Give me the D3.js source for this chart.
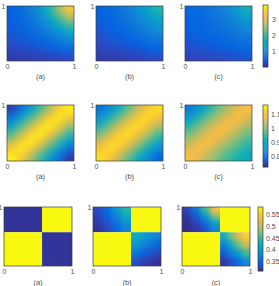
<!DOCTYPE html>
<html>
<head>
<meta charset="utf-8">
<script src="https://cdn.jsdelivr.net/npm/d3@7"></script>
<style>
  body { margin: 0; background: #fff; }
  svg { display: block; }
  text { font-family: "Liberation Sans", Arial, sans-serif; }
</style>
</head>
<body>
<svg id="fig" width="279" height="286"></svg>
<script>
// ---- data ----
const panelLabels = ["(a)", "(b)", "(c)"];

// row 1 (values on a 7x7 grid, top row first)
const row1Range = [0, 3.9];
const row1Ticks = [1, 2, 3];
const row1A = [
  [0.5, 0.62, 0.85, 1.25, 1.8, 2.6, 3.4],
  [0.48, 0.58, 0.76, 1.05, 1.5, 2.1, 2.75],
  [0.45, 0.53, 0.66, 0.86, 1.15, 1.55, 2.0],
  [0.4, 0.46, 0.56, 0.68, 0.86, 1.1, 1.38],
  [0.34, 0.39, 0.45, 0.53, 0.64, 0.8, 0.96],
  [0.27, 0.3, 0.34, 0.39, 0.45, 0.52, 0.6],
  [0.16, 0.18, 0.2, 0.22, 0.25, 0.28, 0.32]
];
const row1B = [
  [0.5, 0.58, 0.72, 0.92, 1.2, 1.5, 1.85],
  [0.47, 0.54, 0.65, 0.8, 1.02, 1.28, 1.55],
  [0.43, 0.5, 0.58, 0.69, 0.85, 1.05, 1.25],
  [0.38, 0.44, 0.5, 0.59, 0.7, 0.84, 1.0],
  [0.32, 0.37, 0.42, 0.48, 0.56, 0.66, 0.76],
  [0.26, 0.29, 0.33, 0.37, 0.42, 0.48, 0.54],
  [0.16, 0.18, 0.2, 0.22, 0.25, 0.28, 0.31]
];
const row1C = [
  [0.55, 0.62, 0.72, 0.86, 1.05, 1.35, 1.7],
  [0.53, 0.59, 0.67, 0.77, 0.92, 1.12, 1.38],
  [0.5, 0.55, 0.61, 0.69, 0.79, 0.93, 1.1],
  [0.46, 0.5, 0.55, 0.61, 0.68, 0.78, 0.9],
  [0.4, 0.44, 0.48, 0.53, 0.58, 0.65, 0.72],
  [0.33, 0.36, 0.39, 0.43, 0.47, 0.52, 0.57],
  [0.24, 0.26, 0.28, 0.3, 0.33, 0.36, 0.39]
];

// row 2
const row2Range = [0.72, 1.17];
const row2Ticks = [0.8, 0.9, 1, 1.1];
const row2A = [
  [0.74, 0.8, 0.87, 0.95, 1.03, 1.11, 1.16],
  [0.8, 0.87, 0.95, 1.03, 1.11, 1.16, 1.11],
  [0.87, 0.95, 1.03, 1.11, 1.16, 1.11, 1.03],
  [0.95, 1.03, 1.11, 1.16, 1.11, 1.03, 0.95],
  [1.03, 1.11, 1.16, 1.11, 1.03, 0.95, 0.87],
  [1.11, 1.16, 1.11, 1.03, 0.95, 0.87, 0.8],
  [1.16, 1.11, 1.03, 0.95, 0.87, 0.8, 0.74]
];
const row2B = [
  [0.8, 0.85, 0.91, 0.98, 1.05, 1.11, 1.14],
  [0.85, 0.91, 0.98, 1.05, 1.11, 1.14, 1.10],
  [0.91, 0.98, 1.05, 1.11, 1.14, 1.10, 1.04],
  [0.98, 1.05, 1.11, 1.14, 1.10, 1.04, 0.97],
  [1.05, 1.11, 1.14, 1.10, 1.04, 0.97, 0.9],
  [1.11, 1.14, 1.10, 1.04, 0.97, 0.9, 0.84],
  [1.14, 1.10, 1.04, 0.97, 0.9, 0.84, 0.78]
];
const row2C = [
  [0.81, 0.86, 0.92, 0.98, 1.03, 1.07, 1.1],
  [0.86, 0.92, 0.98, 1.03, 1.07, 1.1, 1.07],
  [0.92, 0.98, 1.03, 1.07, 1.1, 1.07, 1.03],
  [0.98, 1.03, 1.07, 1.1, 1.07, 1.03, 0.99],
  [1.03, 1.07, 1.1, 1.07, 1.03, 0.99, 0.95],
  [1.07, 1.1, 1.07, 1.03, 0.99, 0.95, 0.92],
  [1.1, 1.07, 1.03, 0.99, 0.95, 0.92, 0.9]
];

// row 3 (8x8, split in four blocks at the break lines)
const row3Range = [0.31, 0.58];
const row3Ticks = [0.35, 0.4, 0.45, 0.5, 0.55];
const row3Breaks = [0.56, 0.57]; // x break, y break
const row3A = [
  [0.316, 0.316, 0.316, 0.316, 0.578, 0.578, 0.578, 0.578],
  [0.316, 0.316, 0.316, 0.316, 0.578, 0.578, 0.578, 0.578],
  [0.316, 0.316, 0.316, 0.316, 0.578, 0.578, 0.578, 0.578],
  [0.316, 0.316, 0.316, 0.316, 0.578, 0.578, 0.578, 0.578],
  [0.578, 0.578, 0.578, 0.578, 0.316, 0.316, 0.316, 0.316],
  [0.578, 0.578, 0.578, 0.578, 0.316, 0.316, 0.316, 0.316],
  [0.578, 0.578, 0.578, 0.578, 0.316, 0.316, 0.316, 0.316],
  [0.578, 0.578, 0.578, 0.578, 0.316, 0.316, 0.316, 0.316]
];
const row3B = [
  [0.33, 0.355, 0.395, 0.44, 0.578, 0.578, 0.578, 0.578],
  [0.325, 0.345, 0.38, 0.42, 0.578, 0.578, 0.578, 0.578],
  [0.32, 0.335, 0.36, 0.395, 0.578, 0.578, 0.578, 0.578],
  [0.316, 0.328, 0.35, 0.375, 0.578, 0.578, 0.578, 0.578],
  [0.578, 0.578, 0.578, 0.578, 0.42, 0.41, 0.39, 0.375],
  [0.578, 0.578, 0.578, 0.578, 0.395, 0.38, 0.365, 0.35],
  [0.578, 0.578, 0.578, 0.578, 0.365, 0.35, 0.338, 0.328],
  [0.578, 0.578, 0.578, 0.578, 0.335, 0.326, 0.32, 0.316]
];
const row3C = [
  [0.325, 0.365, 0.45, 0.54, 0.578, 0.578, 0.578, 0.578],
  [0.318, 0.34, 0.4, 0.48, 0.578, 0.578, 0.578, 0.578],
  [0.314, 0.326, 0.36, 0.42, 0.578, 0.578, 0.578, 0.578],
  [0.312, 0.318, 0.336, 0.375, 0.578, 0.578, 0.578, 0.578],
  [0.578, 0.578, 0.578, 0.578, 0.42, 0.47, 0.52, 0.55],
  [0.578, 0.578, 0.578, 0.578, 0.37, 0.42, 0.47, 0.51],
  [0.578, 0.578, 0.578, 0.578, 0.34, 0.37, 0.41, 0.45],
  [0.578, 0.578, 0.578, 0.578, 0.318, 0.335, 0.355, 0.385]
];

// parula colormap anchors (MATLAB)
const parulaRGB = [
  [0.2081, 0.1663, 0.5292], [0.1707, 0.2919, 0.7792], [0.0117, 0.3875, 0.8820],
  [0.0779, 0.5040, 0.8384], [0.0343, 0.5966, 0.8199], [0.0267, 0.6642, 0.7607],
  [0.1453, 0.7098, 0.6646], [0.3482, 0.7424, 0.5473], [0.5709, 0.7485, 0.4494],
  [0.7525, 0.7384, 0.3768], [0.9139, 0.7258, 0.3063], [0.9938, 0.7455, 0.2403],
  [0.9789, 0.8271, 0.1633], [0.9763, 0.9831, 0.0538]
];
const parulaIdx = [0, 5, 8, 15, 20, 25, 30, 35, 40, 45, 50, 53, 57, 63];

const parula = d3.scaleLinear()
  .domain(parulaIdx.map(i => i / 63))
  .range(parulaRGB.map(c => d3.rgb(c[0] * 255, c[1] * 255, c[2] * 255).toString()))
  .interpolate(d3.interpolateRgb)
  .clamp(true);

// ---- layout ----
const rows = [
  { top: 6, bottom: 61, lefts: [7, 96, 185], w: 67, cbX: 263, cbTop: 5, cbBottom: 67,
    data: [row1A, row1B, row1C], range: row1Range, ticks: row1Ticks, split: false, labelDy: 17.5, cbPad: 4 },
  { top: 105, bottom: 161, lefts: [7, 96, 185], w: 67, cbX: 263, cbTop: 105, cbBottom: 167,
    data: [row2A, row2B, row2C], range: row2Range, ticks: row2Ticks, split: false, labelDy: 18, cbPad: 3 },
  { top: 207, bottom: 266, lefts: [4, 93, 182], w: 68, cbX: 258, cbTop: 207, cbBottom: 271,
    data: [row3A, row3B, row3C], range: row3Range, ticks: row3Ticks, split: true, labelDy: 19, cbPad: 3 }
];

const svg = d3.select("#fig");
const defs = svg.append("defs");

function addBlur(id, sd) {
  defs.append("filter").attr("id", id)
    .attr("filterUnits", "userSpaceOnUse")
    .attr("x", -30).attr("y", -30).attr("width", 340).attr("height", 350)
    .attr("color-interpolation-filters", "sRGB")
    .append("feGaussianBlur").attr("stdDeviation", sd);
}
addBlur("soft", 3.6);
addBlur("soft3", 2.6);

const txtColor = "#505050";
const fontFam = "\"Liberation Sans\", Arial, sans-serif";
const numFmt = d => String(+d.toFixed(3));
let clipId = 0;

rows.forEach((row, ri) => {
  const color = d3.scaleLinear().domain(row.range).range([0, 1]);
  const fill = v => parula(color(v));

  row.data.forEach((mat, pi) => {
    const x0 = row.lefts[pi];
    const x = d3.scaleLinear().domain([0, 1]).range([x0, x0 + row.w]);
    const y = d3.scaleLinear().domain([0, 1]).range([row.bottom, row.top]);
    const n = mat.length;

    // cell edges in data units
    let xe, ye, blocks;
    if (!row.split) {
      xe = d3.range(n + 1).map(j => j / n);
      ye = d3.range(n + 1).map(i => 1 - i / n);
      blocks = [[0, n, 0, n]];
    } else {
      const h = n / 2, [bx, by] = row3Breaks;
      xe = d3.range(n + 1).map(j => j <= h ? bx * j / h : bx + (1 - bx) * (j - h) / h);
      ye = d3.range(n + 1).map(i => i <= h ? 1 - (1 - by) * i / h : by - by * (i - h) / h);
      blocks = [[0, h, 0, h], [h, n, 0, h], [0, h, h, n], [h, n, h, n]];
    }

    const g = svg.append("g");
    blocks.forEach(([c0, c1, r0, r1]) => {
      const id = "clip" + (clipId++);
      defs.append("clipPath").attr("id", id).append("rect")
        .attr("x", x(xe[c0])).attr("y", y(ye[r0]))
        .attr("width", x(xe[c1]) - x(xe[c0]))
        .attr("height", y(ye[r1]) - y(ye[r0]));
      const cells = [];
      for (let i = r0; i < r1; i++) {
        for (let j = c0; j < c1; j++) {
          cells.push({ i, j, v: mat[i][j] });
        }
      }
      const pad = 12;
      g.append("g").attr("clip-path", `url(#${id})`)
        .append("g").attr("filter", row.split ? "url(#soft3)" : "url(#soft)")
        .selectAll("rect").data(cells).join("rect")
        .attr("x", d => x(xe[d.j]) - (d.j === c0 ? pad : 0.3))
        .attr("y", d => y(ye[d.i]) - (d.i === r0 ? pad : 0.3))
        .attr("width", d => x(xe[d.j + 1]) - x(xe[d.j]) + (d.j === c0 ? pad : 0.3) + (d.j === c1 - 1 ? pad : 0.3))
        .attr("height", d => y(ye[d.i + 1]) - y(ye[d.i]) + (d.i === r0 ? pad : 0.3) + (d.i === r1 - 1 ? pad : 0.3))
        .attr("fill", d => fill(d.v));
    });

    // frame
    svg.append("rect")
      .attr("x", x(0)).attr("y", y(1))
      .attr("width", x(1) - x(0)).attr("height", y(0) - y(1))
      .attr("fill", "none").attr("stroke", "#3a3a3a").attr("stroke-width", 0.7);

    // axes
    const ax = svg.append("g").attr("transform", `translate(0,${row.bottom})`)
      .call(d3.axisBottom(x).tickValues([0, 1]).tickSize(0).tickPadding(3).tickFormat(d3.format("d")));
    const ay = svg.append("g").attr("transform", `translate(${x0},0)`)
      .call(d3.axisLeft(y).tickValues([1]).tickSize(0).tickPadding(1.5).tickFormat(d3.format("d")));
    [ax, ay].forEach(a => {
      a.select(".domain").remove();
      a.selectAll("text").attr("font-size", 7).attr("fill", txtColor).attr("font-family", fontFam);
    });

    svg.append("text")
      .attr("x", (x(0) + x(1)) / 2)
      .attr("y", row.bottom + row.labelDy)
      .attr("text-anchor", "middle")
      .attr("font-size", 7.5)
      .attr("fill", txtColor)
      .text(panelLabels[pi]);
  });

  // colorbar
  const cb = d3.scaleLinear().domain(row.range).range([row.cbBottom, row.cbTop]);
  const steps = d3.range(64).map(k => row.range[0] + (row.range[1] - row.range[0]) * (k + 0.5) / 64);
  const stepH = (row.cbBottom - row.cbTop) / 64;
  svg.append("g").selectAll("rect").data(steps).join("rect")
    .attr("x", row.cbX)
    .attr("y", d => cb(d) - stepH / 2 - 0.2)
    .attr("width", 5)
    .attr("height", stepH + 0.4)
    .attr("fill", d => fill(d));
  svg.append("rect")
    .attr("x", row.cbX).attr("y", row.cbTop)
    .attr("width", 5).attr("height", row.cbBottom - row.cbTop)
    .attr("fill", "none").attr("stroke", "#3a3a3a").attr("stroke-width", 0.7);
  const ac = svg.append("g").attr("transform", `translate(${row.cbX + 5},0)`)
    .call(d3.axisRight(cb).tickValues(row.ticks).tickSize(0).tickPadding(row.cbPad).tickFormat(numFmt));
  ac.select(".domain").remove();
  ac.selectAll("text").attr("font-size", 7).attr("fill", txtColor).attr("font-family", fontFam);
});
</script>
</body>
</html>
